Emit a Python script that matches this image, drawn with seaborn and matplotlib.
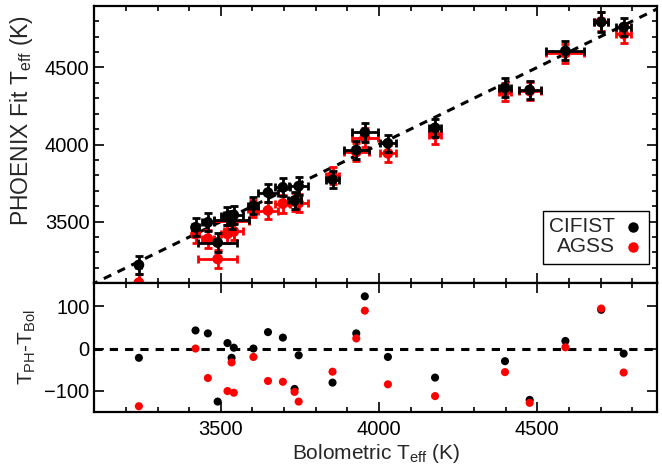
import numpy as np
import pandas as pd
import matplotlib
matplotlib.use("Agg")
import matplotlib.pyplot as plt
from matplotlib.ticker import MultipleLocator
from matplotlib.patches import Rectangle
import seaborn as sns

sns.set_theme(style="white")
plt.rcParams['font.family'] = ['Liberation Sans', 'DejaVu Sans']
plt.rcParams['mathtext.default'] = 'regular'

# ---- data ----
teff_bol = [3241, 3420, 3459, 3490, 3521, 3534, 3541, 3603, 3649, 3696, 3733,
            3746, 3853, 3928, 3955, 4028, 4177, 4398, 4476, 4589, 4702, 4773]
teff_bol_err = [8, 12, 18, 62, 20, 55, 30, 16, 32, 24, 20,
                31, 21, 40, 42, 26, 20, 20, 35, 60, 23, 24]
ph_cifist = [3219, 3463, 3495, 3364, 3534, 3512, 3543, 3603, 3688, 3722, 3637,
             3730, 3772, 3964, 4079, 4008, 4108, 4368, 4354, 4607, 4794, 4761]
ph_agss = [3104, 3420, 3389, 3258, 3420, 3501, 3436, 3583, 3572, 3617, 3630,
           3620, 3798, 3952, 4045, 3943, 4064, 4342, 4347, 4592, 4797, 4716]
ph_err = [58, 58, 58, 60, 58, 58, 58, 56, 58, 58, 58,
          58, 56, 60, 62, 56, 60, 60, 60, 62, 62, 60]

df = pd.DataFrame({
    "bol": teff_bol, "bol_err": teff_bol_err,
    "cifist": ph_cifist, "agss": ph_agss, "ph_err": ph_err,
})
df["res_cifist"] = df["cifist"] - df["bol"]
df["res_agss"] = df["agss"] - df["bol"]

xlim = (3100, 4880)
ylim_top = (3100, 4900)
ylim_bot = (-150, 155)

fig = plt.figure(figsize=(6.62, 4.72), dpi=100)
ax1 = fig.add_axes([0.1424, 0.3998, 0.8508, 0.5881])
ax2 = fig.add_axes([0.1424, 0.1278, 0.8508, 0.2720], sharex=ax1)

dash = (0, (2.7, 2.3))
# 1:1 line
ax1.plot([3000, 5000], [3000, 5000], color='black', lw=2.2, ls=dash, zorder=1)

# AGSS (red) then CIFIST (black)
ax1.errorbar(df["bol"], df["agss"], xerr=df["bol_err"], yerr=df["ph_err"],
             fmt='none', ecolor='red', elinewidth=2, capsize=3, capthick=2, zorder=2)
sns.scatterplot(data=df, x="bol", y="agss", ax=ax1, color='red', s=60,
                edgecolor='none', zorder=3, legend=False)
ax1.errorbar(df["bol"], df["cifist"], xerr=df["bol_err"], yerr=df["ph_err"],
             fmt='none', ecolor='black', elinewidth=2, capsize=3, capthick=2, zorder=4)
sns.scatterplot(data=df, x="bol", y="cifist", ax=ax1, color='black', s=60,
                edgecolor='none', zorder=5, legend=False)

# residuals
ax2.axhline(0, color='black', lw=2.2, ls=dash, zorder=1)
sns.scatterplot(data=df, x="bol", y="res_cifist", ax=ax2, color='black', s=34,
                edgecolor='none', zorder=2, legend=False)
sns.scatterplot(data=df, x="bol", y="res_agss", ax=ax2, color='red', s=34,
                edgecolor='none', zorder=3, legend=False)

ax1.set_xlim(*xlim)
ax1.set_ylim(*ylim_top)
ax2.set_ylim(*ylim_bot)

for ax in (ax1, ax2):
    for sp in ax.spines.values():
        sp.set_linewidth(1.6)
        sp.set_color('black')
    ax.tick_params(which='both', direction='in', top=True, right=True,
                   bottom=True, left=True, labelsize=14.5, colors='black', width=1.2)
    ax.tick_params(which='major', length=7)
    ax.tick_params(which='minor', length=3.5)
    ax.xaxis.set_major_locator(MultipleLocator(500))
    ax.xaxis.set_minor_locator(MultipleLocator(100))
    ax.set_xlabel("")
    ax.set_ylabel("")

ax1.yaxis.set_major_locator(MultipleLocator(500))
ax1.yaxis.set_minor_locator(MultipleLocator(100))
ax2.yaxis.set_major_locator(MultipleLocator(100))
ax1.tick_params(labelbottom=False)
ax2.tick_params(axis='x', pad=6)

ax1.set_ylabel(r"PHOENIX Fit T$_{eff}$ (K)", fontsize=16.5)
ax2.set_ylabel(r"T$_{PH}$-T$_{Bol}$", fontsize=15)
ax2.set_xlabel(r"Bolometric T$_{eff}$ (K)", fontsize=15, labelpad=2)
ax1.yaxis.set_label_coords(-0.106, 0.585)
ax2.yaxis.set_label_coords(-0.10, 0.5)

# legend box
ax1.add_patch(Rectangle((0.796, 0.0695), 0.189, 0.1905, transform=ax1.transAxes,
                        facecolor='white', edgecolor='black', lw=1.0, zorder=10))
ax1.text(0.9245, 0.204, "CIFIST", transform=ax1.transAxes, ha='right', va='center',
         fontsize=15, zorder=11)
ax1.text(0.9245, 0.132, "AGSS", transform=ax1.transAxes, ha='right', va='center',
         fontsize=15, zorder=11)
ax1.plot([0.956], [0.204], 'o', color='black', ms=7.5, mec='none',
         transform=ax1.transAxes, zorder=11)
ax1.plot([0.956], [0.132], 'o', color='red', ms=7.5, mec='none',
         transform=ax1.transAxes, zorder=11)

fig.savefig("out.png", dpi=100)
